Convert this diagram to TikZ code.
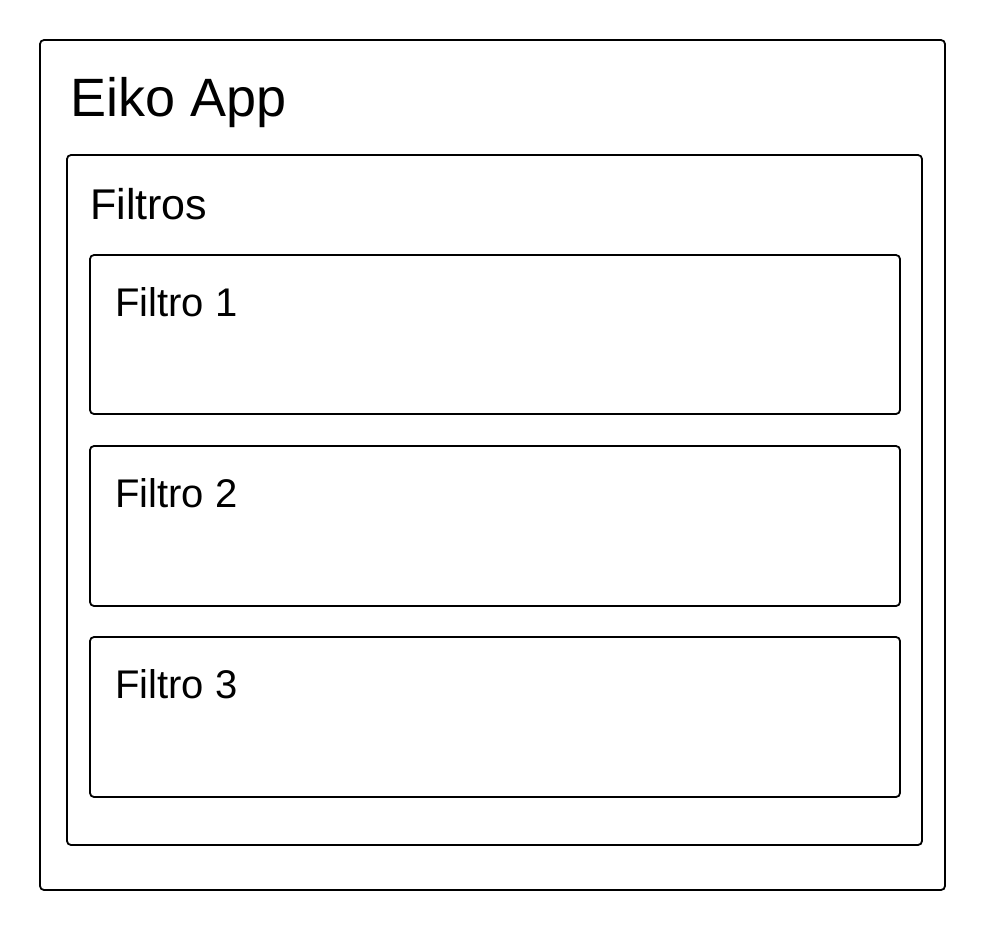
\documentclass[tikz,border=0pt]{standalone}
\usepackage{fontspec}
\setmainfont{Liberation Sans}
\begin{document}
\begin{tikzpicture}[x=1pt,y=-1pt,
  panel/.style={draw=black,line width=1.8pt,rounded corners=4pt,fill=none},
  lbl/.style={anchor=base west,inner sep=0pt,text=black}]
\useasboundingbox (0,0) rectangle (985,930);
\fill[white] (0,0) rectangle (985,930);
\draw[panel] (40,40) rectangle (945,890);
\node[lbl,font=\fontsize{54}{62}\selectfont] (app) at (70,116) {Eiko App};
\draw[panel] (67,155) rectangle (922,845);
\node[lbl,font=\fontsize{43}{50}\selectfont] (filtros) at (90,219) {Filtros};
\draw[panel] (90,255) rectangle (900,414);
\node[lbl,font=\fontsize{40}{46}\selectfont] (f1) at (115,316) {Filtro 1};
\draw[panel] (90,446) rectangle (900,606);
\node[lbl,font=\fontsize{40}{46}\selectfont] (f2) at (115,507) {Filtro 2};
\draw[panel] (90,637) rectangle (900,797);
\node[lbl,font=\fontsize{40}{46}\selectfont] (f3) at (115,698) {Filtro 3};
\end{tikzpicture}
\end{document}
